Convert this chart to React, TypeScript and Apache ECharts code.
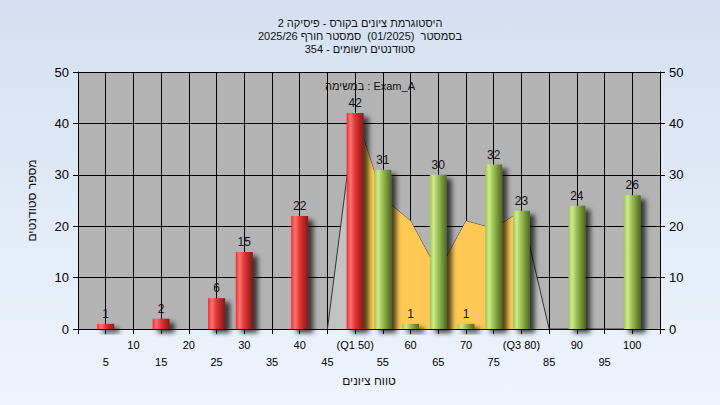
import React, { useEffect, useRef } from "react";
import * as echarts from "echarts";

const titleLines = [
  "היסטוגרמת ציונים בקורס - פיסיקה 2",
  "בסמסטר  (01/2025)  סמסטר חורף 2025/26",
  "סטודנטים רשומים - 354",
];
const legendText = "במשימה : Exam_A";
const yAxisName = "מספר סטודנטים";
const xAxisName = "טווח ציונים";

const redBins = [5, 15, 25, 30, 40, 50];
const redCounts = [1, 2, 6, 15, 22, 42];
const greenBins = [55, 60, 65, 70, 75, 80, 90, 100];
const greenCounts = [31, 1, 30, 1, 32, 23, 24, 26];

const curveX = [45, 50, 55, 60, 65, 70, 75, 80, 85, 90, 95, 100];
const curveY = [0, 42, 25.5, 21, 11, 21, 19.5, 23, 0, 0, 0, 0];
const q1 = 50;
const q3 = 80;

const redGrad = () =>
  new echarts.graphic.LinearGradient(0, 0, 1, 0, [
    { offset: 0, color: "#f02c2c" },
    { offset: 0.22, color: "#ff7474" },
    { offset: 0.5, color: "#e23434" },
    { offset: 1, color: "#821a1a" },
  ]);
const greenGrad = () =>
  new echarts.graphic.LinearGradient(0, 0, 1, 0, [
    { offset: 0, color: "#9cc454" },
    { offset: 0.22, color: "#cfea8e" },
    { offset: 0.5, color: "#9abd50" },
    { offset: 1, color: "#4c6824" },
  ]);

export default function App() {
  const ref = useRef<HTMLDivElement>(null);
  useEffect(() => {
    if (!ref.current) return;
    const chart = echarts.init(ref.current, undefined, { renderer: "svg" });
    const shadow = {
      shadowColor: "rgba(0,0,0,0.7)",
      shadowBlur: 5,
      shadowOffsetX: 5,
      shadowOffsetY: 4,
    };
    const barData: any[] = [];
    redBins.forEach((b, i) =>
      barData.push({ value: [b, redCounts[i]], itemStyle: { color: redGrad(), ...shadow } })
    );
    greenBins.forEach((b, i) =>
      barData.push({ value: [b, greenCounts[i]], itemStyle: { color: greenGrad(), ...shadow } })
    );
    const curve = curveX.map((x, i) => [x, curveY[i]]);
    const yellow = curve.filter((p) => p[0] >= q1 && p[0] <= q3);
    const font = "Arial, 'Liberation Sans', sans-serif";
    const yAxisCommon = {
      type: "value",
      min: 0,
      max: 50,
      interval: 10,
      axisLine: { show: true, lineStyle: { color: "#000", width: 1 } },
      axisTick: { show: true, length: 5, lineStyle: { color: "#000" } },
      axisLabel: { color: "#000", fontSize: 13, fontFamily: font, margin: 9 },
    };
    chart.setOption({
      animation: false,
      backgroundColor: "transparent",
      title: {
        text: titleLines.join("\n"),
        left: "center",
        top: 11,
        textStyle: { fontSize: 11, fontWeight: "normal", color: "#111", lineHeight: 13, fontFamily: font },
      },
      graphic: [
        {
          type: "text",
          left: 325,
          top: 80,
          z: 10,
          style: { text: legendText, fill: "#111", font: `11px ${font}` },
        },
      ],
      grid: { left: 78, right: 60, top: 72, bottom: 76, show: true, backgroundColor: "#b3b3b3", borderWidth: 0 },
      xAxis: {
        type: "value",
        min: 0,
        max: 105,
        interval: 5,
        name: xAxisName,
        nameLocation: "middle",
        nameGap: 45,
        nameTextStyle: { fontSize: 12, color: "#111", fontFamily: font },
        axisLine: { show: true, lineStyle: { color: "#000", width: 1 } },
        axisTick: { show: true, length: 5, lineStyle: { color: "#000" } },
        splitLine: { show: true, lineStyle: { color: "#000", width: 1 } },
        axisLabel: {
          color: "#000",
          fontSize: 11,
          fontFamily: font,
          margin: 7,
          lineHeight: 17,
          showMinLabel: true,
          showMaxLabel: true,
          formatter: (v: number) => {
            if (v <= 0 || v >= 105) return "";
            let s = String(v);
            if (v === q1) s = `(Q1 ${v})`;
            if (v === q3) s = `(Q3 ${v})`;
            return v % 10 === 5 ? "\n" + s : s;
          },
        },
      },
      yAxis: [
        {
          ...yAxisCommon,
          position: "left",
          name: yAxisName,
          nameLocation: "middle",
          nameGap: 40,
          nameRotate: 90,
          nameTextStyle: { fontSize: 12, color: "#111", fontFamily: font },
          splitLine: { show: true, lineStyle: { color: "#000", width: 1 } },
        },
        {
          ...yAxisCommon,
          position: "right",
          splitLine: { show: false },
        },
      ],
      series: [
        {
          type: "line",
          data: curve,
          symbol: "none",
          z: 1,
          lineStyle: { color: "#333", width: 1 },
          areaStyle: { color: "#c2c2c2", opacity: 1 },
        },
        {
          type: "line",
          data: yellow,
          symbol: "none",
          z: 2,
          lineStyle: { width: 0, opacity: 0 },
          areaStyle: { color: "#ffc955", opacity: 1 },
        },
        {
          type: "bar",
          data: barData,
          barWidth: 17,
          z: 3,
          label: {
            show: true,
            position: "top",
            distance: 4,
            color: "#111",
            fontSize: 12,
            fontFamily: font,
          },
        },
      ],
    });
    return () => chart.dispose();
  }, []);
  return (
    <div
      style={{
        position: "fixed",
        left: 0,
        top: 0,
        width: 720,
        height: 405,
        background: "linear-gradient(to bottom, #d4e0f1, #eef4fc)",
      }}
    >
      <div ref={ref} style={{ width: 720, height: 405 }} />
    </div>
  );
}
